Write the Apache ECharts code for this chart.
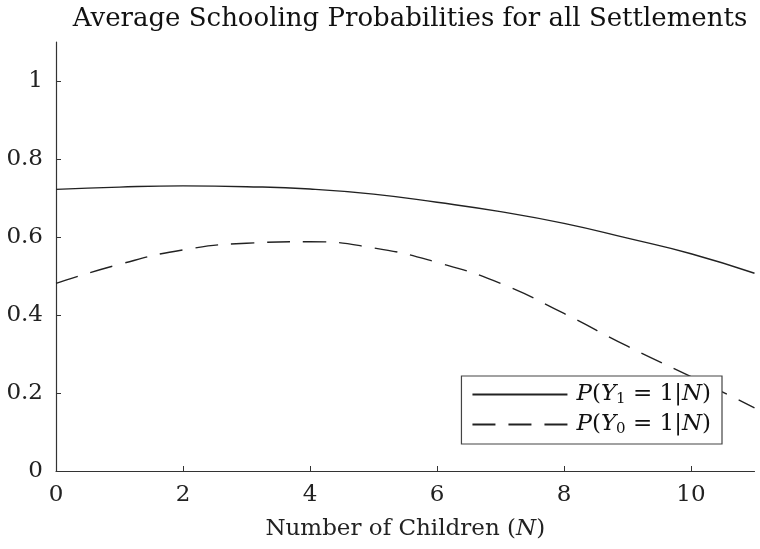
<!DOCTYPE html>
<html><head><meta charset="utf-8">
<script src="https://cdn.jsdelivr.net/npm/echarts@6/dist/echarts.min.js"></script>
<style>html,body{margin:0;padding:0;background:#fff}#c{width:760px;height:549px}</style>
</head><body><div id="c"></div>
<script>
const xValues = [0, 1, 2, 3, 4, 5, 6, 7, 8, 9, 10, 11];
const y1Values = [0.722, 0.728, 0.731, 0.729, 0.723, 0.710, 0.689, 0.665, 0.635, 0.597, 0.557, 0.507];
const y0Values = [0.481, 0.530, 0.567, 0.584, 0.588, 0.572, 0.535, 0.481, 0.404, 0.320, 0.242, 0.162];
const xTicks = [0, 2, 4, 6, 8, 10];
const yTicks = [0, 0.2, 0.4, 0.6, 0.8, 1];
const seriesNames = ['P(Y1 = 1|N)', 'P(Y0 = 1|N)'];
const titleText = 'Average Schooling Probabilities for all Settlements';

const serif = '"DejaVu Serif", serif';
const ink = '#222';
const chart = echarts.init(document.getElementById('c'));
function legendRich(name) {
  const sub = name.charAt(3);
  return '{sp|}{i|P}{n|(}{i|Y}{s|' + sub + '}{n| = 1|}{i|N}{n|)}';
}
chart.setOption({
  animation: false,
  title: {
    text: titleText, left: 405, textAlign: 'center', top: 1,
    textStyle: { fontFamily: serif, fontWeight: 'normal', fontSize: 26, color: '#111' }
  },
  grid: { left: 56, right: 5.5, top: 42, bottom: 78 },
  legend: {
    orient: 'vertical', right: 38, top: 376,
    itemWidth: 95, itemHeight: 14, itemGap: 6,
    backgroundColor: '#fff', borderColor: '#444', borderWidth: 1.2,
    padding: [7, 11, 7, 10],
    formatter: legendRich,
    itemStyle: { opacity: 0 },
    textStyle: {
      color: '#111',
      rich: {
        sp: { width: 4 },
        i: { fontFamily: serif, fontStyle: 'italic', fontSize: 23, color: '#111' },
        n: { fontFamily: serif, fontSize: 23, color: '#111' },
        s: { fontFamily: serif, fontSize: 15, color: '#111', padding: [10, 0, 0, 0] }
      }
    },
    data: seriesNames
  },
  xAxis: {
    type: 'value', min: 0, max: 11,
    name: 'Number of Children ({i|N})', nameLocation: 'middle', nameGap: 47,
    nameTextStyle: { fontFamily: serif, fontSize: 23, color: '#222',
      rich: { i: { fontFamily: serif, fontStyle: 'italic', fontSize: 23, color: '#222' } } },
    axisLine: { lineStyle: { color: '#333', width: 1.2 } },
    axisTick: { inside: true, length: 5, customValues: xTicks, lineStyle: { color: '#333' } },
    axisLabel: { customValues: xTicks, margin: 13, fontFamily: serif, fontSize: 23, color: '#222' },
    splitLine: { show: false }
  },
  yAxis: {
    type: 'value', min: 0, max: 1.1,
    axisLine: { show: true, lineStyle: { color: '#333', width: 1.2 } },
    axisTick: { show: true, inside: true, length: 5, customValues: yTicks, lineStyle: { color: '#333' } },
    axisLabel: { customValues: yTicks, margin: 13, fontFamily: serif, fontSize: 23, color: '#222' },
    splitLine: { show: false }
  },
  series: [
    { name: seriesNames[0], type: 'line', smooth: true, symbol: 'none',
      data: xValues.map((x, i) => [x, y1Values[i]]),
      lineStyle: { color: ink, width: 1.4, type: 'solid' }, itemStyle: { color: ink } },
    { name: seriesNames[1], type: 'line', smooth: true, symbol: 'none',
      data: xValues.map((x, i) => [x, y0Values[i]]),
      lineStyle: { color: ink, width: 1.4, type: [23, 13] }, itemStyle: { color: ink } }
  ]
});
</script></body></html>
